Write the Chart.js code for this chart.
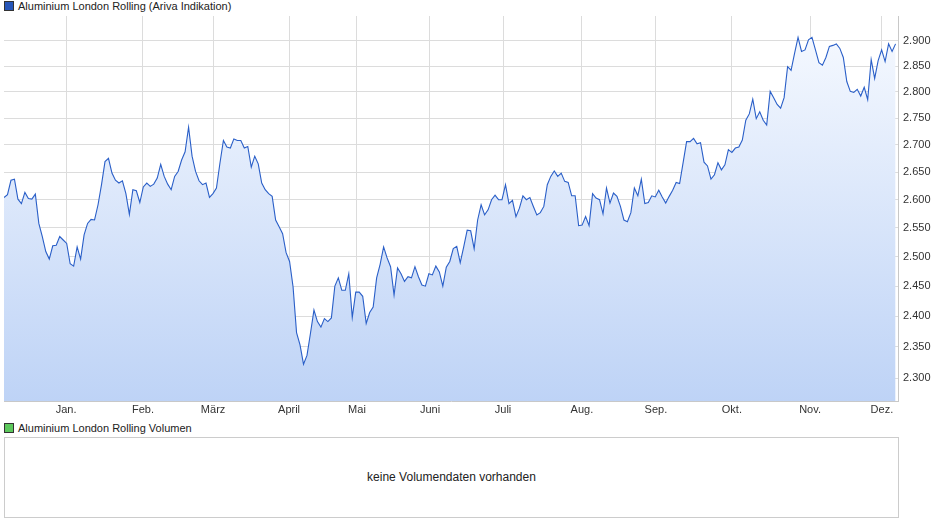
<!DOCTYPE html>
<html><head><meta charset="utf-8">
<script src="https://cdn.jsdelivr.net/npm/chart.js@4"></script>
<style>
body{margin:0;background:#fff;font-family:Arial,"Liberation Sans",sans-serif;font-size:11px;color:#222;}
.leg{position:absolute;left:4px;height:12px;line-height:12px;}
.leg span{display:inline-block;width:8px;height:8px;border:1px solid #333;margin-right:4px;vertical-align:-1px;}
#wrap{position:absolute;left:0;top:0;width:940px;height:420px;}
#vol{position:absolute;left:4px;top:437px;width:893px;height:79px;border:1px solid #ccc;text-align:center;line-height:79px;font-size:12px;}
</style></head><body>
<div class="leg" style="top:0px"><span style="background:#2756b8"></span>Aluminium London Rolling (Ariva Indikation)</div>
<div id="wrap"><canvas id="c"></canvas></div>
<div class="leg" style="top:422px"><span style="background:#5cc85c"></span>Aluminium London Rolling Volumen</div>
<div id="vol">keine Volumendaten vorhanden</div>
<script>
const prices = [2.604,2.609,2.635,2.637,2.601,2.593,2.613,2.602,2.601,2.610,2.558,2.535,2.509,2.496,2.519,2.520,2.535,2.529,2.523,2.488,2.484,2.517,2.496,2.538,2.558,2.565,2.564,2.591,2.627,2.669,2.675,2.648,2.635,2.630,2.634,2.611,2.574,2.618,2.616,2.595,2.623,2.630,2.624,2.628,2.639,2.664,2.642,2.628,2.618,2.642,2.651,2.672,2.687,2.733,2.679,2.651,2.634,2.627,2.630,2.604,2.611,2.621,2.666,2.708,2.696,2.694,2.711,2.708,2.708,2.694,2.697,2.659,2.679,2.665,2.630,2.618,2.611,2.606,2.564,2.552,2.540,2.507,2.492,2.449,2.373,2.353,
2.322,2.336,2.372,2.410,2.391,2.382,2.396,2.391,2.397,2.450,2.464,2.443,2.443,2.471,2.398,2.440,2.440,2.433,2.388,2.406,2.415,2.464,2.487,2.517,2.498,2.483,2.435,2.481,2.471,2.458,2.466,2.464,2.483,2.466,2.452,2.450,2.471,2.469,2.484,2.474,2.450,2.482,2.492,2.514,2.518,2.490,2.517,2.546,2.545,2.514,2.564,2.591,2.573,2.582,2.600,2.608,2.600,2.600,2.627,2.593,2.599,2.570,2.585,2.607,2.600,2.604,2.588,2.573,2.577,2.588,2.627,2.642,2.652,2.642,2.648,2.633,2.631,2.607,2.607,2.554,2.555,2.570,2.554,2.611,2.603,
2.600,2.575,2.621,2.594,2.612,2.606,2.588,2.564,2.561,2.577,2.621,2.607,2.637,2.593,2.595,2.607,2.605,2.617,2.605,2.594,2.606,2.617,2.631,2.629,2.667,2.706,2.706,2.712,2.702,2.704,2.668,2.661,2.637,2.645,2.667,2.654,2.663,2.691,2.686,2.694,2.696,2.709,2.746,2.758,2.786,2.749,2.762,2.746,2.737,2.801,2.789,2.776,2.769,2.789,2.849,2.842,2.875,2.907,2.879,2.882,2.902,2.907,2.882,2.857,2.852,2.867,2.889,2.891,2.894,2.885,2.867,2.820,2.801,2.799,2.805,2.792,2.809,2.785,2.863,2.826,2.861,2.882,2.859,2.894,2.879,2.894];
const spanDays = 366;
const lastDay = 365;
const monthDays = [25.4,56.9,85.6,116.7,144.5,174.4,204.3,236.6,266.9,298,330,359.4];
const monthNames = ["Jan.","Feb.","März","April","Mai","Juni","Juli","Aug.","Sep.","Okt.","Nov.","Dez."];
const yTicks = [2.30,2.35,2.40,2.45,2.50,2.55,2.60,2.65,2.70,2.75,2.80,2.85,2.90];
const yMin = 2.264, yMax = 2.950;

const pts = prices.map((v,i)=>({x:i*lastDay/(prices.length-1), y:v}));
const ctx = document.getElementById('c');
new Chart(ctx,{
  type:'line',
  data:{datasets:[{data:pts,borderColor:'#2a5fc8',borderWidth:1.1,pointRadius:0,tension:0,
    fill:'start',
    backgroundColor:(c)=>{const a=c.chart.chartArea; if(!a) return '#dde8fb';
      const g=c.chart.ctx.createLinearGradient(0,a.top,0,a.bottom);
      g.addColorStop(0,'#f7faff'); g.addColorStop(1,'#bed3f6'); return g;}}]},
  options:{
    animation:false,responsive:true,maintainAspectRatio:false,
    layout:{padding:{top:16,left:4,right:0,bottom:0}},
    plugins:{legend:{display:false},tooltip:{enabled:false}},
    scales:{
      x:{type:'linear',min:0,max:spanDays,
        afterBuildTicks:(s)=>{s.ticks=monthDays.map(v=>({value:v}));},
        ticks:{autoSkip:false,maxRotation:0,padding:2,color:'#333',font:{family:'Arial, Liberation Sans',size:11},
          callback:(v)=>monthNames[monthDays.indexOf(v)]},
        grid:{color:'#dcdcdc',drawTicks:false},border:{color:'#c8c8c8'},
        afterFit:(s)=>{s.height=19;}},
      y:{type:'logarithmic',position:'right',min:yMin,max:yMax,
        afterBuildTicks:(s)=>{s.ticks=yTicks.map(v=>({value:v}));},
        ticks:{autoSkip:false,padding:5,color:'#333',font:{family:'Arial, Liberation Sans',size:11},
          callback:(v)=>v.toFixed(3)},
        grid:{color:'#dcdcdc',drawTicks:false},border:{color:'#c8c8c8'},
        afterFit:(s)=>{s.width=42;}}
    }
  }
});
</script></body></html>
